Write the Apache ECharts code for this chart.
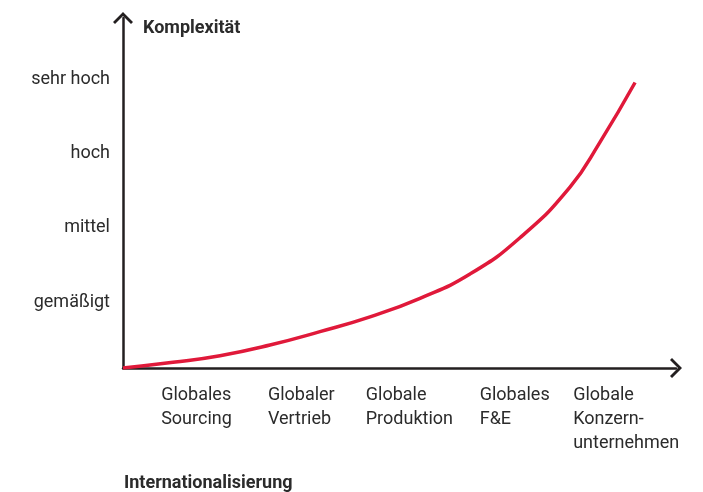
<!DOCTYPE html>
<html>
<head>
<meta charset="utf-8">
<script src="https://cdn.jsdelivr.net/npm/echarts@6/dist/echarts.min.js"></script>
<style>
  html, body { margin: 0; padding: 0; background: #fff; }
  #chart { width: 703px; height: 492px; }
</style>
</head>
<body>
<div id="chart"></div>
<script>
// Stufen der Komplexität (y-Achse)
const stufen = ['gemäßigt', 'mittel', 'hoch', 'sehr hoch']
const stufenWerte = [1, 2, 3, 4]
// Phasen der Internationalisierung (x-Achse)
const phasen = ['Globales\nSourcing', 'Globaler\nVertrieb', 'Globale\nProduktion', 'Globales\nF&E', 'Globale\nKonzern-\nunternehmen']
const phasenPos = [6.9, 26.2, 43.9, 64.5, 81.4]
// Kurve
const kurveX = [0, 9.04, 17.54, 26.58, 35.62, 44.67, 53.71, 62.75, 71.79, 80.83, 86.26, 92.6]
const kurveY = [0.11, 0.187, 0.276, 0.42, 0.60, 0.80, 1.05, 1.377, 1.867, 2.55, 3.157, 3.96]

const achsenFarbe = '#231f20'
const textFarbe = '#2b2b2b'
const schrift = 'Roboto'
// offener Pfeil (Chevron)
const pfeil = 'path://M0,10 L10,0 L20,10 L18,12 L10,4 L2,12 Z'

const myChart = echarts.init(document.getElementById('chart'))

function finde(arr, v) {
  for (let i = 0; i < arr.length; i++) {
    if (Math.abs(arr[i] - v) < 1e-6) return i
  }
  return -1
}

const option = {
  backgroundColor: '#fff',
  animation: false,
  title: [{
    text: 'Komplexität',
    left: 143,
    top: 19,
    padding: 0,
    textStyle: { fontFamily: schrift, fontSize: 18, fontWeight: 'bold', color: textFarbe }
  }, {
    text: 'Internationalisierung',
    left: 124,
    top: 474,
    padding: 0,
    textStyle: { fontFamily: schrift, fontSize: 18, fontWeight: 'bold', color: textFarbe }
  }],
  grid: {
    left: 123,
    right: 27,
    top: 18,
    bottom: 124,
    containLabel: false
  },
  xAxis: {
    type: 'value',
    min: 0,
    max: 100,
    splitLine: { show: false },
    axisTick: { show: false },
    axisLine: {
      show: true,
      onZero: false,
      symbol: ['none', pfeil],
      symbolSize: [22, 12],
      lineStyle: { color: achsenFarbe, width: 2.5 }
    },
    axisLabel: {
      customValues: phasenPos,
      align: 'left',
      verticalAlign: 'top',
      margin: 15,
      lineHeight: 24,
      fontFamily: schrift,
      fontSize: 18,
      color: textFarbe,
      formatter: v => {
        const i = finde(phasenPos, v)
        return i >= 0 ? phasen[i] : ''
      }
    }
  },
  yAxis: {
    type: 'value',
    min: 0.11,
    max: 4.83,
    splitLine: { show: false },
    axisTick: { show: false },
    axisLine: {
      show: true,
      onZero: false,
      symbol: ['none', pfeil],
      symbolSize: [22, 12],
      lineStyle: { color: achsenFarbe, width: 2.5 }
    },
    axisLabel: {
      customValues: stufenWerte,
      margin: 13,
      fontFamily: schrift,
      fontSize: 18,
      color: textFarbe,
      formatter: v => {
        const i = finde(stufenWerte, v)
        return i >= 0 ? stufen[i] : ''
      }
    }
  },
  series: [{
    type: 'line',
    smooth: 0.5,
    symbol: 'none',
    lineStyle: { color: '#e0193a', width: 3.5 },
    data: kurveX.map((x, i) => [x, kurveY[i]])
  }]
}

myChart.setOption(option)
window.onresize = function () {
  myChart.resize()
}
</script>
</body>
</html>
